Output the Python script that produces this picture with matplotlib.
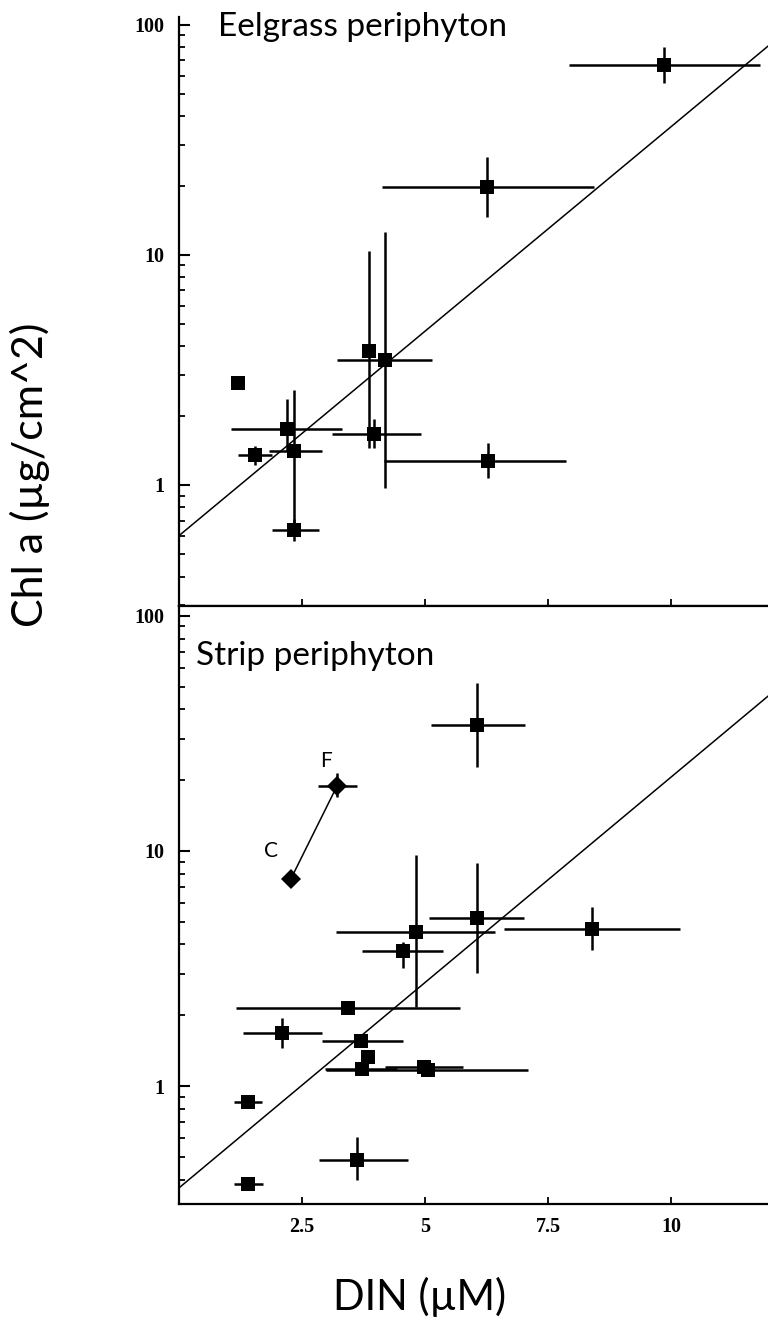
import numpy as np
import matplotlib
matplotlib.use("Agg")
import matplotlib.pyplot as plt
from matplotlib.ticker import LogLocator, FixedLocator, NullFormatter

# --- Eelgrass periphyton (top panel) ---
eel_x = [9.85, 6.26, 3.87, 4.18, 1.21, 2.21, 3.97, 1.55, 2.34, 6.27, 2.34]
eel_y = [67.0, 19.7, 3.84, 3.50, 2.77, 1.75, 1.67, 1.35, 1.40, 1.27, 0.64]
eel_xlo = [1.93, 2.13, 0.0, 0.96, 0.0, 1.14, 0.86, 0.34, 0.50, 2.10, 0.45]
eel_xhi = [1.95, 2.17, 0.0, 0.97, 0.0, 1.11, 0.94, 0.35, 0.57, 1.59, 0.51]
eel_ylo = [11.2, 5.1, 2.39, 2.53, 0.0, 0.35, 0.22, 0.13, 0.80, 0.20, 0.07]
eel_yhi = [12.7, 7.0, 6.56, 9.10, 0.0, 0.62, 0.27, 0.13, 1.19, 0.25, 0.07]
eel_fit = (-0.222, 0.178)   # log10(chl) = a + b*DIN

# --- Strip periphyton (bottom panel) ---
strip_x = [6.06, 4.81, 6.05, 4.56, 8.38, 3.43, 2.09, 3.71, 3.85, 3.73, 4.98, 5.06, 1.40, 1.41, 3.63]
strip_y = [34.4, 4.53, 5.17, 3.77, 4.64, 2.14, 1.68, 1.56, 1.33, 1.18, 1.20, 1.17, 0.852, 0.385, 0.484]
strip_xlo = [0.94, 1.61, 0.97, 0.83, 1.77, 2.27, 0.79, 0.80, 0.0, 0.76, 0.80, 2.06, 0.27, 0.28, 0.78]
strip_xhi = [0.97, 1.61, 0.96, 0.81, 1.79, 2.28, 0.83, 0.85, 0.0, 0.70, 0.80, 2.04, 0.29, 0.30, 1.02]
strip_ylo = [11.6, 2.36, 2.15, 0.60, 0.85, 0.0, 0.23, 0.0, 0.0, 0.0, 0.0, 0.0, 0.0, 0.0, 0.084]
strip_yhi = [17.4, 5.07, 3.70, 0.34, 1.14, 0.0, 0.26, 0.0, 0.0, 0.0, 0.0, 0.0, 0.0, 0.0, 0.126]
strip_fit = (-0.435, 0.1750)

# C -> F pair (diamonds)
cf_x = [2.28, 3.22]
cf_y = [7.6, 18.95]
cf_xerr = [0.15, 0.40]
cf_ylo = [0.0, 1.95]
cf_yhi = [0.0, 2.55]
cf_labels = ["C", "F"]

xticks = [2.5, 5, 7.5, 10]
xticklabels = ["2.5", "5", "7.5", "10"]

W, H = 768, 1333
fig = plt.figure(figsize=(W / 100, H / 100), dpi=100)

def px_box(left, top, right, bottom):
    return [left / W, 1 - bottom / H, (right - left) / W, (bottom - top) / H]

ax1 = fig.add_axes(px_box(178.5, 17, 770, 606))
ax2 = fig.add_axes(px_box(178.5, 606, 770, 1204))

tickfont = dict(family="Liberation Serif", weight="bold", size=14.5)
txtfont = ["Lato", "DejaVu Sans"]


def style(ax, ylim, show_top):
    ax.set_yscale("log")
    ax.set_xlim(0, 12)
    ax.set_ylim(*ylim)
    for s in ["left", "bottom", "top"]:
        ax.spines[s].set_linewidth(1.6)
    ax.spines["right"].set_visible(False)
    ax.spines["top"].set_visible(show_top)
    ax.yaxis.set_major_locator(FixedLocator([1, 10, 100]))
    ax.yaxis.set_minor_locator(LogLocator(base=10, subs=np.arange(2, 10)))
    ax.yaxis.set_minor_formatter(NullFormatter())
    ax.set_yticklabels(["1", "10", "100"], fontdict=tickfont)
    ax.set_xticks(xticks)
    ax.tick_params(axis="y", which="major", direction="in", length=8, width=1.5, pad=10)
    ax.tick_params(axis="y", which="minor", direction="in", length=4, width=1.3)
    ax.tick_params(axis="x", direction="in", length=5, width=1.3, pad=9)


def draw_points(ax, x, y, xlo, xhi, ylo, yhi, marker="s", ms=9.5):
    ax.errorbar(x, y, xerr=[xlo, xhi], yerr=[ylo, yhi], fmt=marker, color="black",
                ms=ms, elinewidth=1.8, capsize=0, mew=0)


def draw_fit(ax, fit):
    xx = np.linspace(0, 12, 200)
    ax.plot(xx, 10 ** (fit[0] + fit[1] * xx), color="black", lw=1.1)


style(ax1, (0.298, 108), False)
draw_fit(ax1, eel_fit)
draw_points(ax1, eel_x, eel_y, eel_xlo, eel_xhi, eel_ylo, eel_yhi)
ax1.set_xticklabels([])
ax1.text(0.067, 0.968, "Eelgrass periphyton", transform=ax1.transAxes,
         family=txtfont, fontsize=24, va="baseline", ha="left")

style(ax2, (0.315, 110), True)
ax2.tick_params(axis="x", top=False)
draw_fit(ax2, strip_fit)
draw_points(ax2, strip_x, strip_y, strip_xlo, strip_xhi, strip_ylo, strip_yhi)
ax2.plot(cf_x, cf_y, color="black", lw=1.1)
draw_points(ax2, cf_x, cf_y, cf_xerr, cf_xerr, cf_ylo, cf_yhi, marker="D", ms=10)
ax2.text(1.88, 10.0, cf_labels[0], family=txtfont, fontsize=15,
         ha="center", va="center")
ax2.text(2.99, 24.0, cf_labels[1], family=txtfont, fontsize=15,
         ha="center", va="center")
ax2.set_xticklabels(xticklabels, fontdict=tickfont)
ax2.text(0.029, 0.901, "Strip periphyton", transform=ax2.transAxes,
         family=txtfont, fontsize=24, va="baseline", ha="left")

fig.text(420 / W, 1 - 1297 / H, "DIN (\u00b5M)", family=txtfont,
         fontsize=30, ha="center", va="center")
fig.text(30 / W, 1 - 475 / H, "Chl a (\u00b5g/cm^2)", family=txtfont,
         fontsize=31, ha="center", va="center", rotation=90)

fig.savefig("out.png", dpi=100)
